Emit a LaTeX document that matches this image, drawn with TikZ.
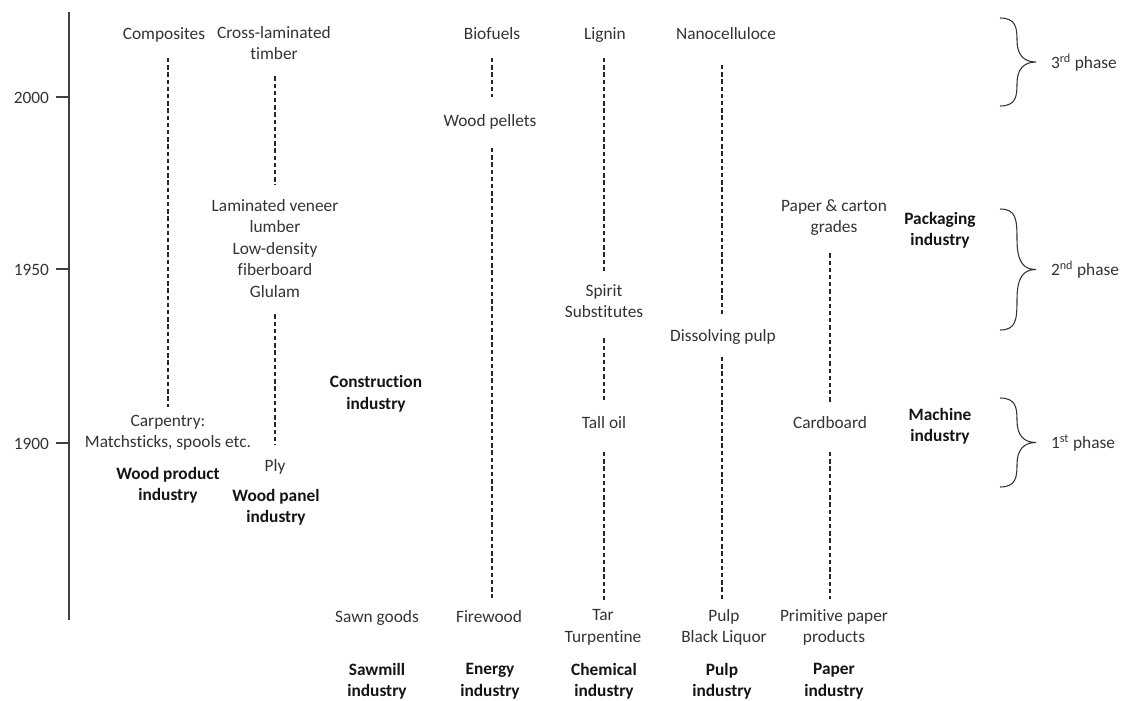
\documentclass[tikz,border=0pt]{standalone}
\usepackage{fontspec}
\setmainfont{Carlito}[Ligatures=NoCommon]
\begin{document}
\begin{tikzpicture}[x=0.75pt,y=-0.75pt,
  every node/.style={inner sep=0pt, outer sep=0pt, align=center, text=black!80,
    font=\fontsize{13}{16.1}\selectfont, yshift=-1.5pt,
    execute at begin node=\strut, execute at end node=\strut},
  item/.style={},
  ind/.style={font=\fontsize{13}{16.1}\selectfont\bfseries, text=black!92},
  year/.style={anchor=east},
  dline/.style={draw=black!85, line width=0.9pt, dash pattern=on 3.2pt off 2.2pt},
  gap/.style 2 args={shorten <=#1*0.75pt, shorten >=#2*0.75pt},
  axis/.style={draw=black!75, line width=0.9pt},
  bracestyle/.style={draw=black!80, line width=0.8pt}
]
\useasboundingbox (0,0) rectangle (1128,700);

% time axis
\draw[axis] (69,12) -- (69,620);
\foreach \yy in {97, 269, 443}{
  \draw[axis] (56,\yy) -- (69,\yy);
}
\node[year] (y2000) at (49,97) {2000};
\node[year] (y1950) at (49,269) {1950};
\node[year] (y1900) at (49,443) {1900};

% items
\node[item] (comp) at (164,33) {Composites};
\node[item] (clt) at (274,44) {Cross-laminated\\timber};
\node[item] (lvl) at (275,249.5) {Laminated veneer\\lumber\\Low-density\\fiberboard\\Glulam};
\node[item] (carp) at (168,432.5) {Carpentry:\\Matchsticks, spools etc.};
\node[ind] (wprod) at (168,485) {Wood product\\industry};
\node[item] (ply) at (275,465) {Ply};
\node[ind] (wpanel) at (276,507) {Wood panel\\industry};
\node[ind] (constr) at (376,393.5) {Construction\\industry};

\node[item] (biof) at (492,33) {Biofuels};
\node[item] (pellets) at (490,120) {Wood pellets};
\node[item] (sawn) at (377,616) {Sawn goods};
\node[item] (firew) at (489,616) {Firewood};

\node[item] (lignin) at (605,33) {Lignin};
\node[item] (spirit) at (604,302) {Spirit\\Substitutes};
\node[item] (tall) at (604,422) {Tall oil};
\node[item] (tar) at (603,627) {Tar\\Turpentine};

\node[item] (nano) at (726,33) {Nanocelluloce};
\node[item] (dissolv) at (723,335) {Dissolving pulp};
\node[item] (pulp) at (724,627) {Pulp\\Black Liquor};

\node[item] (pcg) at (834,217.5) {Paper \& carton\\grades};
\node[item] (cardb) at (830,422) {Cardboard};
\node[item] (prim) at (834,627) {Primitive paper\\products};

\node[ind] (pack) at (940,230) {Packaging\\industry};
\node[ind] (mach) at (940,426) {Machine\\industry};

\node[ind] (sawmill) at (377,681) {Sawmill\\industry};
\node[ind] (energy) at (490,681) {Energy\\industry};
\node[ind] (chem) at (604,681) {Chemical\\industry};
\node[ind] (pulpind) at (722,681) {Pulp\\industry};
\node[ind] (paperind) at (834,681) {Paper\\industry};

% dashed development lines
\draw[dline, gap={12.3}{8}] (comp.south -| carp.north) -- (carp.north);
\draw[dline, gap={10.5}{14.8}] (clt.south -| lvl.north) -- (lvl.north);
\draw[dline, gap={10.8}{11.3}] (lvl.south -| ply.north) -- (ply.north);
\draw[dline, gap={12.3}{14.3}] (biof.south) -- (biof.south |- pellets.north);
\draw[dline, gap={15.3}{9.3}] (pellets.south -| biof.south) -- (biof.south |- firew.north);
\draw[dline, gap={12.3}{12.5}] (lignin.south -| spirit.north) -- (spirit.north);
\draw[dline, gap={14.5}{13.3}] (spirit.south) -- (tall.north);
\draw[dline, gap={17.3}{9.5}] (tall.south) -- (tall.south |- tar.north);
\draw[dline, gap={19.3}{11.3}] (nano.south -| pulpind.north) -- (pulpind.north |- dissolv.north);
\draw[dline, gap={9.3}{9.5}] (dissolv.south -| pulpind.north) -- (pulpind.north |- pulp.north);
\draw[dline, gap={14}{11.3}] (pcg.south -| cardb.north) -- (cardb.north);
\draw[dline, gap={17.3}{10.5}] (cardb.south) -- (cardb.south |- prim.north);

% phase braces
\foreach \yt/\yb in {18/106, 209/330, 398/487}{
  \pgfmathsetmacro{\ym}{(\yt+\yb)/2}
  \pgfmathsetmacro{\yq}{(\yt+\ym)/2}
  \pgfmathsetmacro{\yr}{(\ym+\yb)/2}
  \draw[bracestyle] (1000,\yt) .. controls (1016,\yt) and (1017,\yt+10) .. (1017,\yq)
     .. controls (1017,\ym-8) and (1023,\ym) .. (1036,\ym)
     .. controls (1023,\ym) and (1017,\ym+8) .. (1017,\yr)
     .. controls (1017,\yb-10) and (1016,\yb) .. (1000,\yb);
}
\node[anchor=west] (ph3) at (1051,62) {3\textsuperscript{rd} phase};
\node[anchor=west] (ph2) at (1051,269.5) {2\textsuperscript{nd} phase};
\node[anchor=west] (ph1) at (1051,442.5) {1\textsuperscript{st} phase};
\end{tikzpicture}
\end{document}
